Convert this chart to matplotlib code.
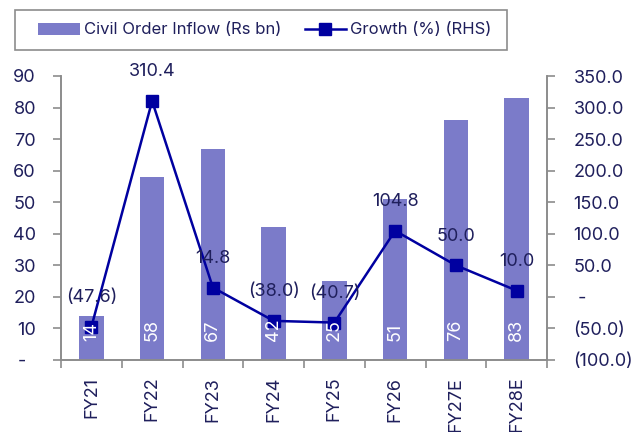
import matplotlib.pyplot as plt
from matplotlib.patches import Rectangle
import numpy as np

years = ['FY21', 'FY22', 'FY23', 'FY24', 'FY25', 'FY26', 'FY27E', 'FY28E']
inflow = [14, 58, 67, 42, 25, 51, 76, 83]
growth = [-47.6, 310.4, 14.8, -38.0, -40.7, 104.8, 50.0, 10.0]

bar_col = '#7b7bc9'
line_col = '#0000a0'
txt_col = '#1f1f5c'
spine_col = '#8c8c8c'

plt.rcParams['font.family'] = ['Inter', 'DejaVu Sans']
plt.rcParams['font.size'] = 13


def fmt_growth(v):
    if v == 0:
        return ' -'
    if v < 0:
        return f'({abs(v):.1f})'
    return f'{v:.1f}'


fig = plt.figure(figsize=(6.43, 4.32), dpi=100)
ax = fig.add_axes([61 / 643, 1 - 360 / 432, 486 / 643, 284 / 432])
ax2 = ax.twinx()

x = np.arange(len(years))
bars = ax.bar(x, inflow, width=0.4, color=bar_col, zorder=1)

line, = ax2.plot(x, growth, color=line_col, marker='s', markersize=9, linewidth=1.8, zorder=3)
for xi, v in zip(x, growth):
    ax2.annotate(fmt_growth(v), (xi, v), xytext=(0, 15), textcoords='offset points',
                 ha='center', va='bottom', color=txt_col, fontsize=13)

# bar values sit on top of the line markers
for xi, v in zip(x, inflow):
    ax2.annotate(str(v), (xi, 0), xycoords=ax.transData, xytext=(0, 14),
                 textcoords='offset points', rotation=90, ha='center', va='bottom',
                 color='white', fontsize=13, zorder=5)

ax.set_xlim(-0.5, len(years) - 0.5)
ax.set_ylim(0, 90)
ax.set_yticks(range(0, 91, 10))
ax.set_yticklabels(['-  '] + [str(v) for v in range(10, 91, 10)])
ax2.set_ylim(-100, 350)
ticks2 = list(range(-100, 351, 50))
ax2.set_yticks(ticks2)
ax2.set_yticklabels([fmt_growth(v) for v in ticks2])

ax.set_xticks(x)
ax.set_xticklabels(years, rotation=90)
ax.set_xticks(np.arange(-0.5, len(years), 1), minor=True)
ax.tick_params(axis='x', which='major', length=0, pad=12, colors=txt_col, labelsize=13)
ax.tick_params(axis='x', which='minor', length=6, color=spine_col, width=1.2)
ax.tick_params(axis='y', length=6, color=spine_col, width=1.2, labelcolor=txt_col, labelsize=13, pad=12)
ax2.tick_params(axis='y', length=6, color=spine_col, width=1.2, labelcolor=txt_col, labelsize=13, pad=13)

for a in (ax, ax2):
    a.spines['top'].set_visible(False)
    for s in ('left', 'right', 'bottom'):
        a.spines[s].set_color(spine_col)
        a.spines[s].set_linewidth(1.2)

leg = fig.legend([bars, line], ['Civil Order Inflow (Rs bn)', 'Growth (%) (RHS)'],
                 loc='center', bbox_to_anchor=(265 / 643, 1 - 30 / 432), ncol=2,
                 frameon=False, fontsize=12, handlelength=2.5,
                 handletextpad=0.25, columnspacing=1.4, borderpad=0, borderaxespad=0,
                 labelcolor=txt_col)
fig.patches.append(Rectangle((15 / 643, 1 - 50 / 432), 492 / 643, 40 / 432,
                             transform=fig.transFigure, fill=False,
                             edgecolor=spine_col, linewidth=1.2))

fig.savefig('out.png', dpi=100)
